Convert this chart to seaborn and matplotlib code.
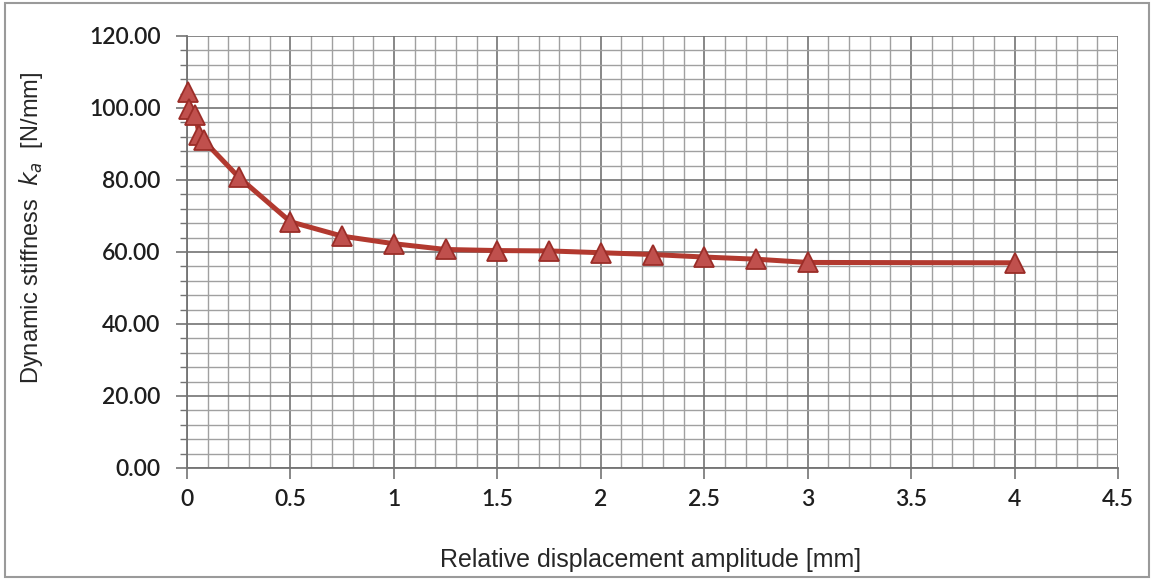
import numpy as np
import pandas as pd
import matplotlib
matplotlib.use("Agg")
import matplotlib.pyplot as plt
from matplotlib.ticker import MultipleLocator, FormatStrFormatter, FuncFormatter
from matplotlib.patches import Rectangle
import seaborn as sns

# data
displacement = [0.005, 0.01, 0.04, 0.06, 0.08, 0.25, 0.5, 0.75, 1.0, 1.25, 1.5, 1.75, 2.0, 2.25, 2.5, 2.75, 3.0, 4.0]
stiffness = [104.4, 99.8, 98.0, 92.5, 91.0, 80.8, 68.4, 64.4, 62.3, 60.7, 60.4, 60.3, 59.8, 59.3, 58.6, 58.0, 57.1, 57.0]
x_ticks = [0, 0.5, 1, 1.5, 2, 2.5, 3, 3.5, 4, 4.5]
y_ticks = [0, 20, 40, 60, 80, 100, 120]

df = pd.DataFrame({"x": displacement, "y": stiffness})

sns.set_style("white")
plt.rcParams["font.family"] = ["Liberation Sans", "DejaVu Sans"]

fig = plt.figure(figsize=(11.54, 5.79), dpi=100)
ax = fig.add_axes([187/1154, 1 - 468/579, (1118 - 187)/1154, (468 - 36)/579])

ax.set_xlim(0, 4.5)
ax.set_ylim(0, 120)
ax.set_xticks(x_ticks)
ax.set_yticks(y_ticks)
ax.xaxis.set_minor_locator(MultipleLocator(0.1))
ax.yaxis.set_minor_locator(MultipleLocator(4))
ax.grid(which="major", color="#737373", linewidth=1.2)
ax.grid(which="minor", color="#a0a0a0", linewidth=1.0)
ax.set_axisbelow(True)

sns.lineplot(data=df, x="x", y="y", ax=ax, color="#B2392F", linewidth=3.6,
             marker="^", markersize=15, markerfacecolor="#C0504D",
             markeredgecolor="#9B2D28", markeredgewidth=1.3, zorder=5, clip_on=False)

for s in ["top", "right"]:
    ax.spines[s].set_visible(False)
for s in ["left", "bottom"]:
    ax.spines[s].set_color("#737373")
    ax.spines[s].set_linewidth(1.3)

ax.yaxis.set_major_formatter(FormatStrFormatter("%.2f"))
ax.xaxis.set_major_formatter(FuncFormatter(lambda v, p: ("%g" % v)))
ax.tick_params(axis="x", which="major", direction="out", length=8, width=1.2, color="#737373",
               bottom=True, labelsize=16.5, pad=7, labelcolor="#1e1e1e")
ax.tick_params(axis="x", which="minor", length=0)
ax.tick_params(axis="y", which="major", direction="out", length=8, width=1.2, color="#737373",
               left=True, labelsize=16.5, pad=11, labelcolor="#1e1e1e")
ax.tick_params(axis="y", which="minor", direction="out", length=5, width=1.0, color="#737373", left=True)
for lab in ax.get_xticklabels() + ax.get_yticklabels():
    lab.set_family(["Lato", "DejaVu Sans"])
    lab.set_fontweight("semibold")

ax.set_xlabel("Relative displacement amplitude [mm]", fontsize=18, color="#262626")
ax.set_ylabel("Dynamic stiffness  $k_a$  [N/mm]", fontsize=17, color="#262626")
ax.xaxis.set_label_coords(0.498, -0.185)
ax.yaxis.set_label_coords(-0.153, 0.556)

fig.patches.append(Rectangle((0.004, 0.004), 0.992, 0.99, transform=fig.transFigure,
                             fill=False, edgecolor="#9a9a9a", linewidth=1.5))

fig.savefig("out.png", dpi=100)
